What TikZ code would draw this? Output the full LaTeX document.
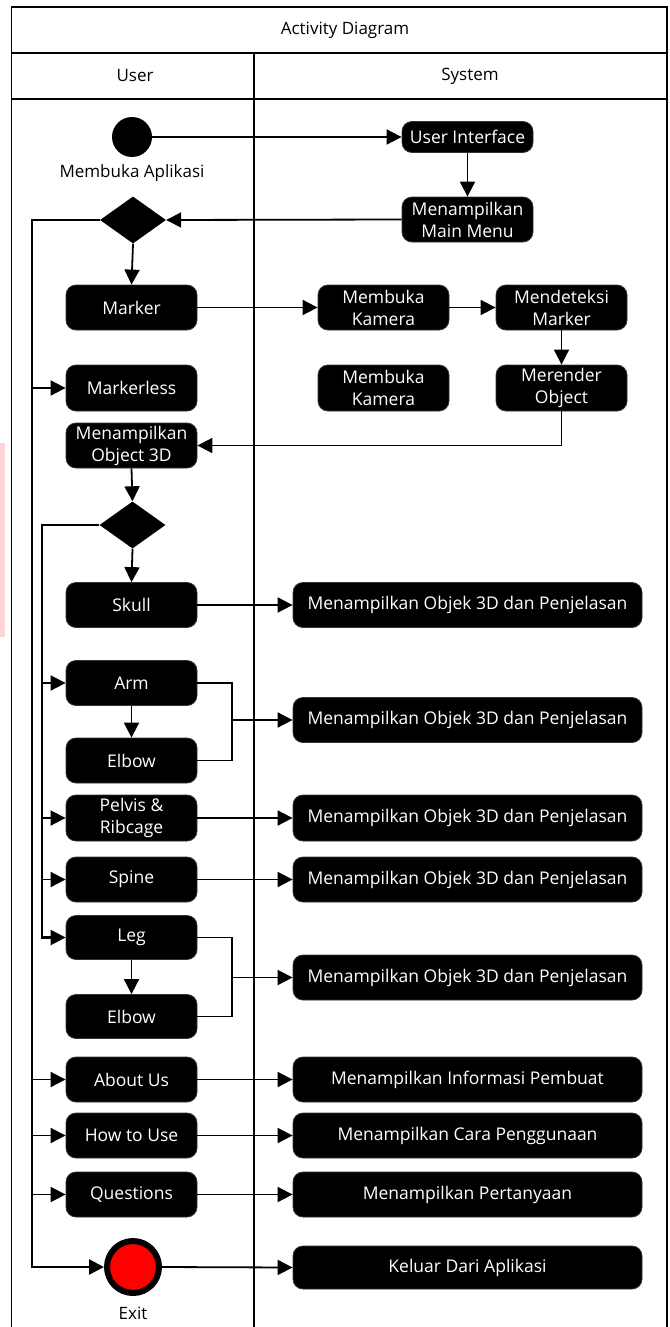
\documentclass[tikz,border=0pt]{standalone}
\usepackage{fontspec}
\setmainfont{Open Sans}
\usetikzlibrary{arrows.meta,shapes.geometric}
\begin{document}
\begin{tikzpicture}[x=1pt,y=-1pt,
  act/.style={rectangle,rounded corners=10pt,fill=black,draw=black!80,line width=0.8pt,text=white,minimum width=131pt,minimum height=45pt,align=center,inner sep=1pt,font=\fontsize{17.5}{22}\selectfont},
  wide/.style={act,minimum width=349pt},
  dec/.style={diamond,fill=black,minimum width=66pt,minimum height=47pt,inner sep=0pt},
  flow/.style={line width=1.8pt,-{Triangle[length=15pt,width=15pt]}},
  link/.style={line width=1.8pt},
  loopline/.style={line width=2.4pt},
  frame/.style={line width=1.5pt},
  lbl/.style={font=\fontsize{17}{19}\selectfont,inner sep=1pt}
]
\useasboundingbox (0,0) rectangle (669,1327);
% scan tint
\fill[red!16] (0,443) rectangle (5,637);
% frame
\draw[frame] (11.5,1330) -- (11.5,7) -- (667,7) -- (667,1330);
\draw[frame] (11.5,53) -- (667,53);
\draw[frame] (11.5,99) -- (667,99);
\draw[frame] (254,53) -- (254,1330);
\node[lbl] (title) at (345,30) {Activity Diagram};
\node[lbl] (user) at (135,76) {User};
\node[lbl] (system) at (470,76) {System};

% nodes
\node[circle,fill=black,minimum size=40pt,inner sep=0pt] (start) at (132,137) {};
\node[lbl] (startlbl) at (132,173) {Membuka Aplikasi};
\node[act,minimum height=31pt] (ui) at (467.5,137) {User Interface};
\node[act] (mm) at (467.5,219.5) {Menampilkan\\Main Menu};
\node[dec] (d1) at (133,220) {};
\node[act] (marker) at (131.5,307.5) {Marker};
\node[act] (mk1) at (383.5,307.5) {Membuka\\Kamera};
\node[act] (mdm) at (561.5,307.5) {Mendeteksi\\Marker};
\node[act,minimum height=46pt] (markerless) at (131.5,388) {Markerless};
\node[act,minimum height=46pt] (mk2) at (383.5,388) {Membuka\\Kamera};
\node[act,minimum height=46pt] (mro) at (561.5,388) {Merender\\Object};
\node[act] (obj) at (131.5,445.5) {Menampilkan\\Object 3D};
\node[dec] (d2) at (132.5,525) {};
\node[act] (skull) at (131.5,605) {Skull};
\node[wide] (t1) at (467.5,605) {Menampilkan Objek 3D dan Penjelasan};
\node[act] (arm) at (131.5,683) {Arm};
\node[act] (elbow) at (131.5,760.5) {Elbow};
\node[wide] (t2) at (467.5,720) {Menampilkan Objek 3D dan Penjelasan};
\node[act,minimum height=46pt] (pelvis) at (131.5,818) {Pelvis \&\\Ribcage};
\node[wide,minimum height=46pt] (t3) at (467.5,818) {Menampilkan Objek 3D dan Penjelasan};
\node[act] (spine) at (131.5,879.5) {Spine};
\node[wide] (t4) at (467.5,879.5) {Menampilkan Objek 3D dan Penjelasan};
\node[act,minimum height=44pt] (leg) at (131.5,937.5) {Leg};
\node[act,minimum height=44pt] (elbow2) at (131.5,1016.5) {Elbow};
\node[wide] (t5) at (467.5,977.5) {Menampilkan Objek 3D dan Penjelasan};
\node[act] (about) at (131.5,1079.5) {About Us};
\node[wide] (t6) at (467.5,1079.5) {Menampilkan Informasi Pembuat};
\node[act] (howto) at (131.5,1135.5) {How to Use};
\node[wide] (t7) at (467.5,1135.5) {Menampilkan Cara Penggunaan};
\node[act] (questions) at (131.5,1194.5) {Questions};
\node[wide] (t8) at (467.5,1194.5) {Menampilkan Pertanyaan};
\node[circle,draw=black,line width=6pt,fill=red,minimum size=52pt,inner sep=0pt] (exit) at (133,1267) {};
\node[wide,minimum height=43pt] (t9) at (467.5,1267.5) {Keluar Dari Aplikasi};
\node[lbl] (exitlbl) at (133,1313) {Exit};

% helper columns
\coordinate (L1) at (32,0);
\coordinate (L2) at (42,0);
\coordinate (B) at (232,0);

% connectors
\draw[flow] (start.east) -- (ui.west);
\draw[flow] (ui.south) -- (mm.north);
\draw[flow] (mm.west) -- (d1.east);
\draw[flow] (d1.south) -- (marker.north);
\draw[flow] (marker.east) -- (mk1.west);
\draw[flow] (mk1.east) -- (mdm.west);
\draw[flow] (mdm.south) -- (mro.north);
\draw[flow] (mro.south) |- (obj.east);
\draw[flow] (obj.south) -- (d2.north);
\draw[flow] (d2.south) -- (skull.north);
\draw[flow] (skull.east) -- (t1.west);
\draw[flow] (arm.south) -- (elbow.north);
\draw[link] (arm.east) -- (B |- arm) -- (B |- elbow) -- (elbow.east);
\draw[flow] (B |- t2) -- (t2.west);
\draw[flow] (pelvis.east) -- (t3.west);
\draw[flow] (spine.east) -- (t4.west);
\draw[flow] (leg.south) -- (elbow2.north);
\draw[link] (leg.east) -- (B |- leg) -- (B |- elbow2) -- (elbow2.east);
\draw[flow] (B |- t5) -- (t5.west);
\draw[flow] (about.east) -- (t6.west);
\draw[flow] (howto.east) -- (t7.west);
\draw[flow] (questions.east) -- (t8.west);
\draw[flow] (exit.east) -- (t9.west);

% loop 1 (main menu)
\draw[loopline,-{Triangle[length=15pt,width=15pt]}] (d1.west) -- (L1 |- d1.west) -- (L1 |- exit) -- (exit.west);
\draw[flow] (L1 |- markerless) -- (markerless.west);
\draw[flow] (L1 |- about) -- (about.west);
\draw[flow] (L1 |- howto) -- (howto.west);
\draw[flow] (L1 |- questions) -- (questions.west);

% loop 2 (object menu)
\draw[loopline,-{Triangle[length=15pt,width=15pt]}] (d2.west) -- (L2 |- d2.west) -- (L2 |- leg) -- (leg.west);
\draw[flow] (L2 |- arm) -- (arm.west);
\draw[flow] (L2 |- pelvis) -- (pelvis.west);
\draw[flow] (L2 |- spine) -- (spine.west);
\end{tikzpicture}
\end{document}
